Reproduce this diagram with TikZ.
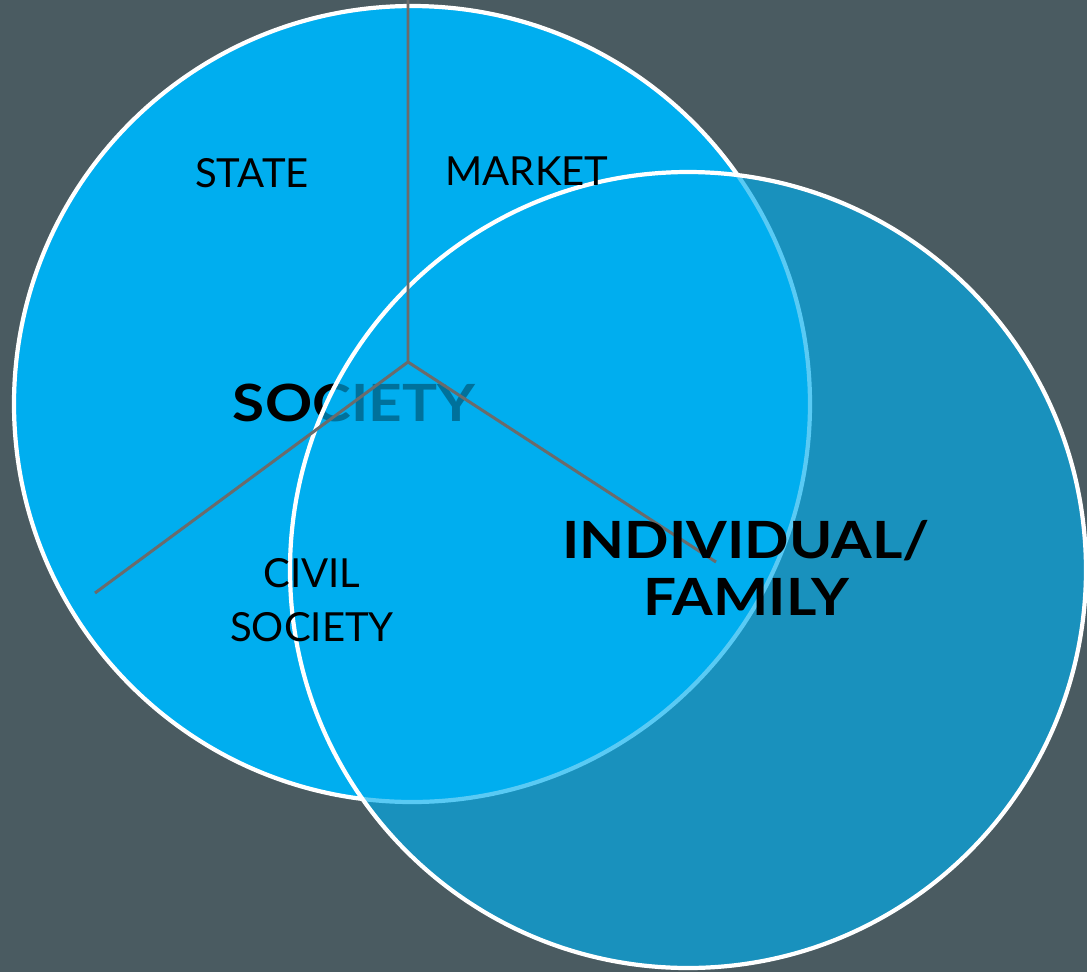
\documentclass[tikz,border=0pt]{standalone}
\usepackage{fontspec}
\setmainfont{Lato}
\newfontfamily\widebold{Lato}[FakeStretch=1.14, UprightFont=*-Bold]
\definecolor{slate}{HTML}{4A5B61}
\definecolor{skyblue}{HTML}{00AEEF}
\definecolor{spoke}{HTML}{6B6B6B}
\begin{document}
\begin{tikzpicture}[
    ring/.style={draw=white, line width=1.2pt, fill=skyblue},
    sector/.style={font=\fontsize{11.4}{15.3}\selectfont, align=center},
    heading/.style={font=\fontsize{14.6}{16.2}\selectfont\widebold, align=center}]
    % background
    \fill[slate] (0,0) rectangle (10.87,-9.72);
    \useasboundingbox (0,0) rectangle (10.87,-9.72);

    % society circle, its label sits under the second circle
    \draw[ring] (4.12,-4.04) circle (3.98);
    \node[heading] (society) at (3.54,-4.03) {SOCIETY};

    % individual/family circle, see-through fill
    \draw[ring, fill opacity=0.65] (6.88,-5.70) circle (3.98);

    % spokes splitting society in three
    \coordinate (hub) at (4.08,-3.62);
    \coordinate (topend) at (4.08,0);
    \coordinate (leftend) at (0.95,-5.93);
    \coordinate (rightend) at (7.16,-5.62);
    \draw[spoke, line width=0.85pt] (topend) -- (hub) -- (leftend);
    \draw[spoke, line width=0.85pt] (hub) -- (rightend);

    % sector names
    \node[sector] (state) at (2.52,-1.73) {STATE};
    \node[sector] (market) at (5.27,-1.71) {MARKET};
    \node[sector] (civil) at (3.12,-6.00) {CIVIL\\SOCIETY};
    \node[heading] (family) at (7.46,-5.68) {INDIVIDUAL/\\FAMILY};
\end{tikzpicture}
\end{document}
